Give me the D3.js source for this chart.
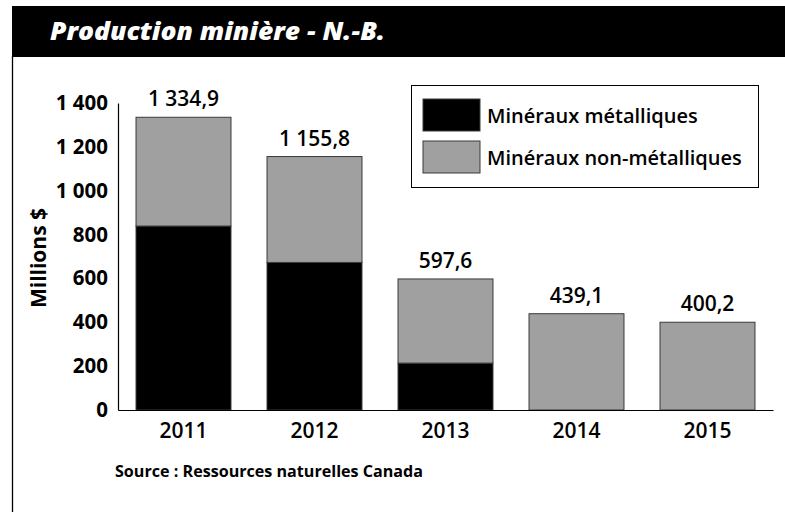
<!DOCTYPE html>
<html>
<head>
<meta charset="utf-8">
<script src="https://cdn.jsdelivr.net/npm/d3@7"></script>
<style>
  body { margin: 0; background: #fff; }
  text { font-family: "Open Sans", sans-serif; }
</style>
</head>
<body>
<div id="chart"></div>
<script>
// Data
var years = ["2011", "2012", "2013", "2014", "2015"];
var metallic = [839, 673, 214, 0, 0];
var nonMetallic = [495.9, 482.8, 383.6, 439.1, 400.2];
var totalLabels = ["1 334,9", "1 155,8", "597,6", "439,1", "400,2"];
var yTicks = [0, 200, 400, 600, 800, 1000, 1200, 1400];
var seriesNames = ["Minéraux métalliques", "Minéraux non-métalliques"];
var seriesColors = ["#000000", "#a0a0a0"];

var W = 785, H = 512;
var x0 = 118, x1 = 773, yBase = 410, yTop = 103;

var svg = d3.select("#chart").append("svg")
  .attr("width", W)
  .attr("height", H);

// frame + title bar
svg.append("line")
  .attr("x1", 12.5).attr("x2", 12.5)
  .attr("y1", 56).attr("y2", H)
  .attr("stroke", "#000").attr("stroke-width", 1.3);

svg.append("rect")
  .attr("x", 12).attr("y", 6)
  .attr("width", W - 12).attr("height", 51)
  .attr("fill", "#000");

svg.append("text")
  .attr("x", 50).attr("y", 40)
  .attr("fill", "#fff")
  .attr("font-size", 25)
  .attr("font-weight", 800)
  .attr("font-style", "italic")
  .attr("textLength", 335)
  .attr("lengthAdjust", "spacingAndGlyphs")
  .text("Production minière - N.-B.");

// scales
var xScale = d3.scaleBand().domain(years).range([x0, x1])
  .paddingInner(0.275).paddingOuter(0.1375);
var yScale = d3.scaleLinear().domain([0, 1400]).range([yBase, yTop]);

// stacked data
var table = years.map(function(y, i) {
  return { year: y, metallic: metallic[i], nonMetallic: nonMetallic[i], label: totalLabels[i] };
});
var stack = d3.stack().keys(["metallic", "nonMetallic"])(table);

var layers = svg.append("g").selectAll("g")
  .data(stack)
  .enter().append("g")
  .attr("fill", function(d, i) { return seriesColors[i]; });

layers.selectAll("rect")
  .data(function(d) { return d.filter(function(p) { return p[1] - p[0] > 0; }); })
  .enter().append("rect")
  .attr("x", function(d) { return xScale(d.data.year); })
  .attr("width", xScale.bandwidth())
  .attr("y", function(d) { return yScale(d[1]); })
  .attr("height", function(d) { return yScale(d[0]) - yScale(d[1]); })
  .attr("stroke", "#3a3a3a")
  .attr("stroke-width", 1);

// total labels
svg.append("g").selectAll("text")
  .data(table)
  .enter().append("text")
  .attr("x", function(d) { return xScale(d.year) + xScale.bandwidth() / 2; })
  .attr("y", function(d) { return yScale(d.metallic + d.nonMetallic) - 11; })
  .attr("text-anchor", "middle")
  .attr("font-size", 21)
  .attr("font-weight", 600)
  .attr("fill", "#000")
  .text(function(d) { return d.label; });

// y axis: plain line, no ticks
var yAxis = d3.axisLeft(yScale).tickValues(yTicks).tickSize(0).tickPadding(10)
  .tickFormat(function(d) { return d3.format(",")(d).replace(",", " "); });
var gY = svg.append("g")
  .attr("transform", "translate(" + x0 + ",0)")
  .call(yAxis);
gY.select(".domain").attr("stroke", "#000").attr("stroke-width", 1.2);
gY.selectAll("text")
  .attr("font-family", "'Open Sans', sans-serif")
  .attr("font-size", 20.5)
  .attr("font-weight", 700)
  .attr("fill", "#000");

// x axis
var xAxis = d3.axisBottom(xScale).tickSize(0).tickPadding(13);
var gX = svg.append("g")
  .attr("transform", "translate(0," + yBase + ")")
  .call(xAxis);
gX.select(".domain").attr("stroke", "#000").attr("stroke-width", 1.2);
gX.selectAll("text")
  .attr("font-family", "'Open Sans', sans-serif")
  .attr("font-size", 21)
  .attr("font-weight", 600)
  .attr("fill", "#000");

// y axis title
svg.append("text")
  .attr("transform", "translate(46,258) rotate(-90)")
  .attr("text-anchor", "middle")
  .attr("font-size", 21)
  .attr("font-weight", 700)
  .text("Millions $");

// legend
var legend = svg.append("g").attr("transform", "translate(411,85)");
legend.append("rect")
  .attr("x", 0.5).attr("y", 0.5)
  .attr("width", 347).attr("height", 102)
  .attr("fill", "#fff")
  .attr("stroke", "#000").attr("stroke-width", 1);
var items = legend.selectAll("g.item")
  .data(seriesNames)
  .enter().append("g")
  .attr("class", "item")
  .attr("transform", function(d, i) { return "translate(0," + (i * 42) + ")"; });
items.append("rect")
  .attr("x", 12).attr("y", 14)
  .attr("width", 57).attr("height", 32)
  .attr("fill", function(d, i) { return seriesColors[i]; })
  .attr("stroke", "#3a3a3a").attr("stroke-width", 1);
items.append("text")
  .attr("x", 76).attr("y", 38)
  .attr("font-size", 20)
  .attr("font-weight", 600)
  .text(function(d) { return d; });

// source
svg.append("text")
  .attr("x", 115).attr("y", 477)
  .attr("font-size", 16.5)
  .attr("font-weight", 700)
  .attr("textLength", 308)
  .attr("lengthAdjust", "spacingAndGlyphs")
  .text("Source : Ressources naturelles Canada");
</script>
</body>
</html>
